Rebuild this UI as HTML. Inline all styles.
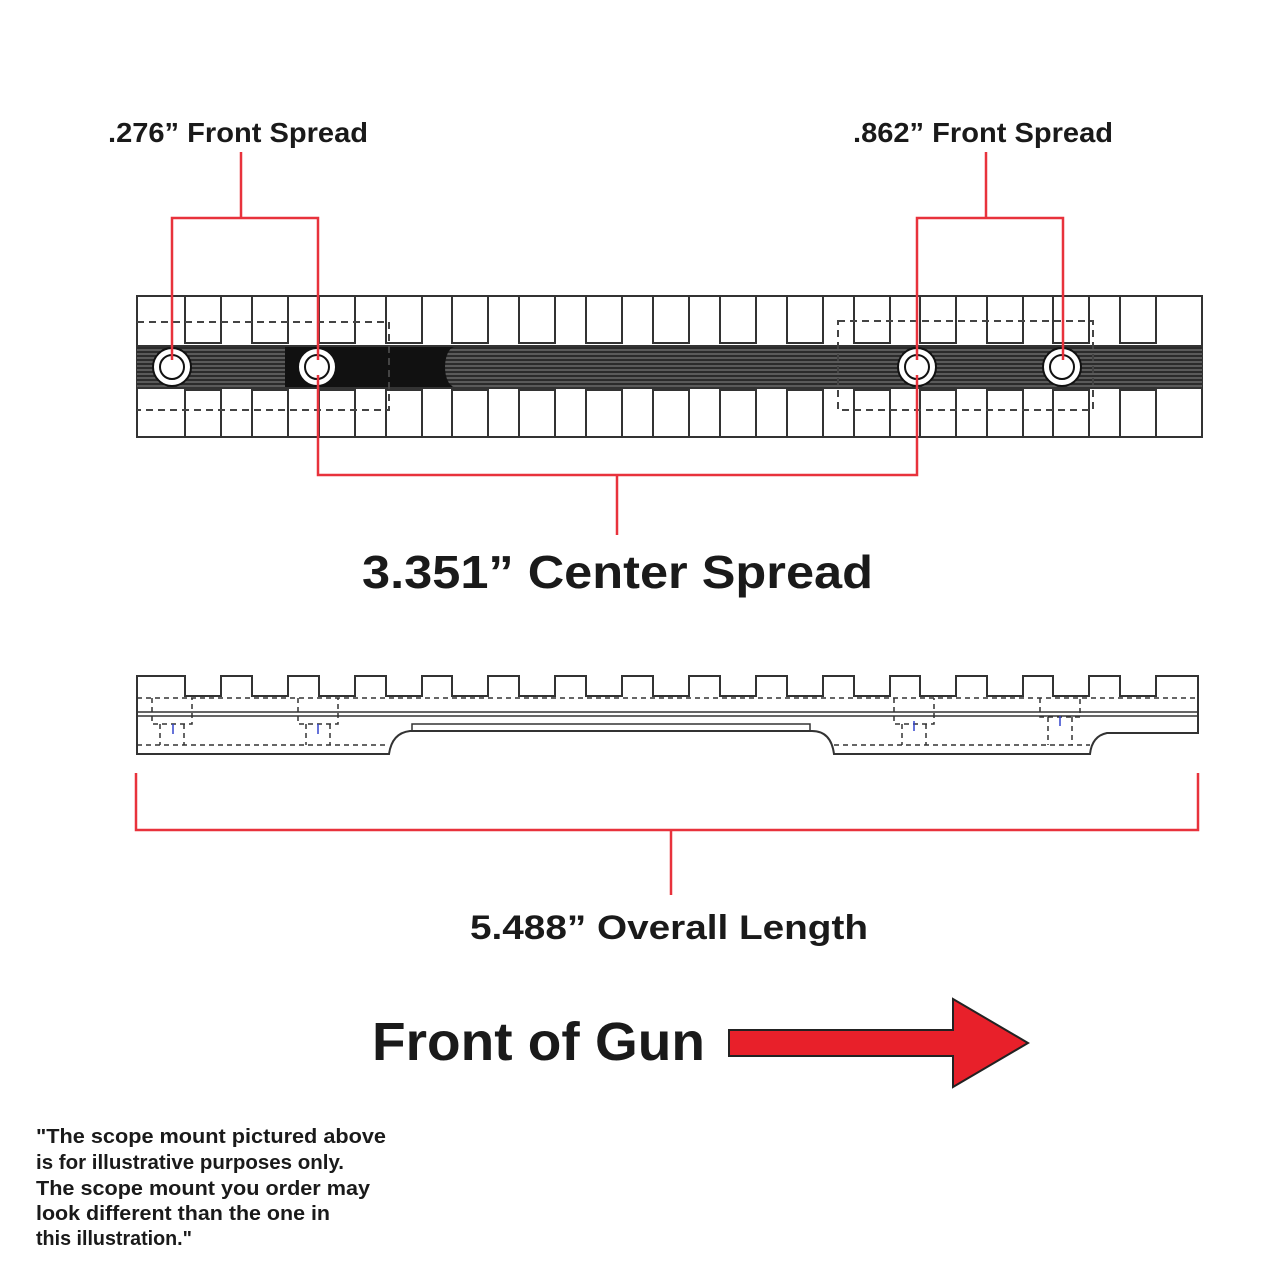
<!DOCTYPE html>
<html><head><meta charset="utf-8"><style>
html,body{margin:0;padding:0;background:#fff;}
svg{display:block;}
text{font-family:"Liberation Sans",sans-serif;font-weight:bold;fill:#1a1a1a;}
</style></head><body>
<svg width="1280" height="1280" viewBox="0 0 1280 1280" xmlns="http://www.w3.org/2000/svg">
<defs>
<g id="slotT"><path d="M0,296 V343 H36 V296" fill="none" stroke="#333" stroke-width="2"/></g>
<g id="slotB"><path d="M0,437 V390 H36 V437" fill="none" stroke="#333" stroke-width="2"/></g>
<pattern id="stripes" x="0" y="347" width="10" height="4" patternUnits="userSpaceOnUse">
<rect width="10" height="4" fill="#2b2b2b"/><rect y="2.5" width="10" height="1" fill="#8a8a8a"/>
</pattern>
</defs>
<!-- top view -->
<rect x="137" y="296" width="1065" height="141" fill="#fff" stroke="#333" stroke-width="2"/>
<rect x="137" y="347" width="1065" height="40" fill="url(#stripes)"/>
<rect x="285" y="347" width="170" height="40" fill="#111"/>
<ellipse cx="455" cy="367" rx="10" ry="20" fill="url(#stripes)"/>
<line x1="137" y1="346" x2="1202" y2="346" stroke="#333" stroke-width="2"/>
<line x1="137" y1="388" x2="1202" y2="388" stroke="#333" stroke-width="2"/>
<g>
<use href="#slotT" x="185"/><use href="#slotT" x="252"/><use href="#slotT" x="319"/><use href="#slotT" x="386"/><use href="#slotT" x="452"/><use href="#slotT" x="519"/><use href="#slotT" x="586"/><use href="#slotT" x="653"/><use href="#slotT" x="720"/><use href="#slotT" x="787"/><use href="#slotT" x="854"/><use href="#slotT" x="920"/><use href="#slotT" x="987"/><use href="#slotT" x="1053"/><use href="#slotT" x="1120"/>
<use href="#slotB" x="185"/><use href="#slotB" x="252"/><use href="#slotB" x="319"/><use href="#slotB" x="386"/><use href="#slotB" x="452"/><use href="#slotB" x="519"/><use href="#slotB" x="586"/><use href="#slotB" x="653"/><use href="#slotB" x="720"/><use href="#slotB" x="787"/><use href="#slotB" x="854"/><use href="#slotB" x="920"/><use href="#slotB" x="987"/><use href="#slotB" x="1053"/><use href="#slotB" x="1120"/>
</g>
<g fill="none" stroke="#444" stroke-width="2" stroke-dasharray="7,5">
<path d="M137,322 H389 V410 H137"/>
<rect x="838" y="321" width="255" height="89"/>
</g>
<g stroke="#111" stroke-width="2">
<circle cx="172" cy="367" r="19" fill="#fff"/><circle cx="172" cy="367" r="12" fill="#fff"/>
<circle cx="317" cy="367" r="19" fill="#fff"/><circle cx="317" cy="367" r="12" fill="#fff"/>
<circle cx="917" cy="367" r="19" fill="#fff"/><circle cx="917" cy="367" r="12" fill="#fff"/>
<circle cx="1062" cy="367" r="19" fill="#fff"/><circle cx="1062" cy="367" r="12" fill="#fff"/>
</g>
<!-- red dimension lines top -->
<g fill="none" stroke="#e8323c" stroke-width="2.5">
<path d="M241,152 V218 M172,360 V218 H318 V360"/>
<path d="M986,152 V218 M917,360 V218 H1063 V360"/>
<path d="M318,375 V475 H917 V375 M617,475 V535"/>
</g>
<!-- side view -->
<path d="M137,754 V676 H185 V696 H221 V676 H252 V696 H288 V676 H319 V696 H355 V676 H386 V696 H422 V676 H452 V696 H488 V676 H519 V696 H555 V676 H586 V696 H622 V676 H653 V696 H689 V676 H720 V696 H756 V676 H787 V696 H823 V676 H854 V696 H890 V676 H920 V696 H956 V676 H987 V696 H1023 V676 H1053 V696 H1089 V676 H1120 V696 H1156 V676 H1198 V733 H1107 Q1092,736 1090,754 H834 Q831,731 812,731 H410 Q392,733 389,754 Z" fill="#fff" stroke="#333" stroke-width="2"/>
<line x1="137" y1="712" x2="1198" y2="712" stroke="#333" stroke-width="1.5"/>
<line x1="137" y1="716" x2="1198" y2="716" stroke="#333" stroke-width="1.5"/>
<rect x="412" y="724" width="398" height="7" fill="none" stroke="#333" stroke-width="1.5"/>
<g fill="none" stroke="#333" stroke-width="1.5" stroke-dasharray="5,4">
<path d="M137,698 H1198"/>
<path d="M137,745 H389 M834,745 H1090"/>
<path d="M152,698 V724 H192 V698 M160,724 V745 M184,724 V745"/>
<path d="M298,698 V724 H338 V698 M306,724 V745 M330,724 V745"/>
<path d="M894,698 V724 H934 V698 M902,724 V745 M926,724 V745"/>
<path d="M1040,698 V717 H1080 V698 M1048,717 V745 M1072,717 V745"/>
</g>
<g stroke="#3344cc" stroke-width="1.5"><path d="M173,724 V734"/><path d="M318,724 V734"/><path d="M914,721 V731"/><path d="M1060,716 V726"/></g>
<!-- bottom bracket -->
<g fill="none" stroke="#e8323c" stroke-width="2.5">
<path d="M136,773 V830 H1198 V773 M671,830 V895"/>
</g>
<!-- labels -->
<text x="108" y="142" font-size="28" textLength="260" lengthAdjust="spacingAndGlyphs">.276” Front Spread</text>
<text x="853" y="142" font-size="28" textLength="260" lengthAdjust="spacingAndGlyphs">.862” Front Spread</text>
<text x="362" y="588" font-size="46" textLength="511" lengthAdjust="spacingAndGlyphs">3.351” Center Spread</text>
<text x="470" y="939" font-size="34" textLength="398" lengthAdjust="spacingAndGlyphs">5.488” Overall Length</text>
<text x="372" y="1060" font-size="54" fill="#111" textLength="333" lengthAdjust="spacingAndGlyphs">Front of Gun</text>
<path d="M729,1030 H953 V999 L1028,1043 L953,1087 V1056 H729 Z" fill="#e8202a" stroke="#222" stroke-width="2"/>
<g font-size="20">
<text x="36" y="1143" textLength="350" lengthAdjust="spacingAndGlyphs">"The scope mount pictured above</text>
<text x="36" y="1169" textLength="308" lengthAdjust="spacingAndGlyphs">is for illustrative purposes only.</text>
<text x="36" y="1195" textLength="334" lengthAdjust="spacingAndGlyphs">The scope mount you order may</text>
<text x="36" y="1220" textLength="294" lengthAdjust="spacingAndGlyphs">look different than the one in</text>
<text x="36" y="1245" textLength="156" lengthAdjust="spacingAndGlyphs">this illustration."</text>
</g>
</svg>
</body></html>
